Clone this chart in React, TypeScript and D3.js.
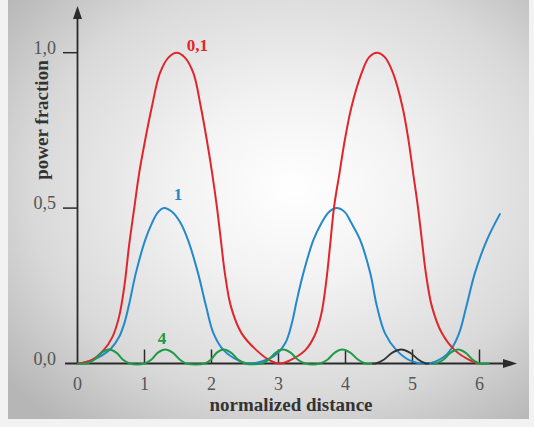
import React from 'react';
import * as d3 from 'd3';

// values
const xTicks = [0, 1, 2, 3, 4, 5, 6];
const yTicks = [0, 0.5, 1];
const yTickLabels = ['0,0', '0,5', '1,0'];

const redPoints: [number, number][] = [
  [0, 0], [0.2, 0.01], [0.39, 0.043], [0.52, 0.085], [0.62, 0.15], [0.7, 0.25],
  [0.77, 0.38], [0.85, 0.505], [0.92, 0.612], [1.01, 0.719], [1.11, 0.826],
  [1.23, 0.934], [1.36, 0.985], [1.48, 1.0], [1.6, 0.985], [1.73, 0.934],
  [1.84, 0.826], [1.93, 0.719], [2.01, 0.612], [2.08, 0.505], [2.14, 0.397],
  [2.2, 0.29], [2.29, 0.183], [2.45, 0.097], [2.67, 0.043], [2.87, 0.01],
  [3.02, 0], [3.17, 0.01], [3.4, 0.043], [3.54, 0.09], [3.64, 0.16],
  [3.71, 0.26], [3.77, 0.38], [3.83, 0.505], [3.91, 0.612], [3.99, 0.719],
  [4.09, 0.826], [4.24, 0.934], [4.35, 0.985], [4.47, 1.0], [4.59, 0.985],
  [4.71, 0.934], [4.85, 0.826], [4.94, 0.719], [5.01, 0.612], [5.08, 0.505],
  [5.14, 0.397], [5.2, 0.29], [5.29, 0.183], [5.44, 0.097], [5.63, 0.043],
  [5.86, 0.01], [5.98, 0],
];

const bluePoints: [number, number][] = [
  [0.05, 0], [0.29, 0.017], [0.5, 0.048], [0.62, 0.085], [0.7, 0.13], [0.77, 0.19],
  [0.87, 0.29], [1.01, 0.397], [1.11, 0.451], [1.2, 0.486], [1.29, 0.5],
  [1.41, 0.488], [1.53, 0.455], [1.65, 0.397], [1.8, 0.29], [1.92, 0.183],
  [2.03, 0.097], [2.18, 0.043], [2.4, 0.01], [2.57, 0], [2.92, 0.022],
  [3.1, 0.065], [3.2, 0.13], [3.27, 0.2], [3.37, 0.29], [3.52, 0.397],
  [3.64, 0.451], [3.75, 0.487], [3.87, 0.5], [3.99, 0.487], [4.09, 0.451],
  [4.22, 0.397], [4.37, 0.29], [4.47, 0.183], [4.59, 0.097], [4.76, 0.043],
  [4.96, 0.01], [5.21, 0], [5.46, 0.02], [5.6, 0.054], [5.7, 0.1], [5.8, 0.18],
  [5.93, 0.29], [6.11, 0.397], [6.31, 0.483],
];

const greenPointsA: [number, number][] = [
  [0, 0], [0.14, 0], [0.25, 0.012], [0.36, 0.035], [0.47, 0.045], [0.58, 0.035], [0.68, 0.012], [0.78, 0],
  [1.0, 0], [1.1, 0.012], [1.2, 0.035], [1.31, 0.045], [1.42, 0.035], [1.53, 0.012], [1.63, 0],
  [1.9, 0], [1.99, 0.012], [2.08, 0.035], [2.18, 0.045], [2.29, 0.035], [2.4, 0.012], [2.5, 0],
  [2.75, 0], [2.85, 0.012], [2.96, 0.035], [3.07, 0.045], [3.18, 0.035], [3.29, 0.012], [3.4, 0],
  [3.62, 0], [3.73, 0.012], [3.84, 0.035], [3.95, 0.045], [4.07, 0.035], [4.19, 0.012], [4.3, 0], [4.4, 0],
];

const greenPointsB: [number, number][] = [
  [5.3, 0], [5.35, 0], [5.46, 0.012], [5.57, 0.035], [5.68, 0.045], [5.79, 0.035], [5.9, 0.012], [6.0, 0], [6.15, 0],
];

const blackPoints: [number, number][] = [
  [4.4, 0], [4.45, 0], [4.57, 0.012], [4.7, 0.035], [4.83, 0.045], [4.96, 0.035], [5.09, 0.012], [5.2, 0], [5.25, 0],
];

const seriesLabels = [
  { text: '0,1', x: 1.63, y: 1.005, color: '#e0262c', anchor: 'start' },
  { text: '1', x: 1.5, y: 0.525, color: '#2389cc', anchor: 'middle' },
  { text: '4', x: 1.26, y: 0.063, color: '#1f9a48', anchor: 'middle' },
];

const W = 534;
const H = 427;
const serif = '"Liberation Serif", "DejaVu Serif", serif';

export default function App() {
  const x = d3.scaleLinear().domain([0, 6]).range([77.5, 479.5]);
  const y = d3.scaleLinear().domain([0, 1]).range([363.5, 52.7]);

  const line = d3.line<[number, number]>()
    .x(d => x(d[0]))
    .y(d => y(d[1]))
    .curve(d3.curveCatmullRom.alpha(0.5));

  const axisColor = '#2b2b2b';
  const x0 = x(0);
  const y0 = y(0);

  return (
    <svg width={W} height={H} style={{ position: 'absolute', left: 0, top: 0, display: 'block' }}>
      <defs>
        <radialGradient id="bg" cx="0.55" cy="0.45" r="0.72">
          <stop offset="0%" stopColor="#ffffff" />
          <stop offset="30%" stopColor="#f3f3f3" />
          <stop offset="70%" stopColor="#d9d9d9" />
          <stop offset="100%" stopColor="#b6b6b6" />
        </radialGradient>
      </defs>
      <rect x={0} y={0} width={W} height={H} fill="#f2f2f2" />
      <rect x={8} y={0} width={521} height={419} fill="url(#bg)" />

      {/* axes */}
      <line x1={x0} x2={x0} y1={y0} y2={16} stroke={axisColor} strokeWidth={1.8} />
      <path d={`M${x0},6 L${x0 - 4.5},19 L${x0 + 4.5},19 Z`} fill={axisColor} />
      <line x1={65} x2={506} y1={y0} y2={y0} stroke={axisColor} strokeWidth={1.8} />
      <path d={`M517,${y0} L503,${y0 - 4.5} L503,${y0 + 4.5} Z`} fill={axisColor} />

      {yTicks.filter(t => t > 0).map(t => (
        <line key={t} x1={63} x2={x0} y1={y(t)} y2={y(t)} stroke={axisColor} strokeWidth={1.5} />
      ))}
      {xTicks.filter(t => t > 0).map(t => (
        <line key={t} x1={x(t)} x2={x(t)} y1={y0} y2={y0 - 14} stroke={axisColor} strokeWidth={1.5} />
      ))}

      {yTicks.map((t, i) => (
        <text key={t} x={56} y={y(t) + 1} textAnchor="end" fontFamily={serif} fontSize={18} fill="#555">
          {yTickLabels[i]}
        </text>
      ))}
      {xTicks.map(t => (
        <text key={t} x={x(t)} y={390} textAnchor="middle" fontFamily={serif} fontSize={18} fill="#555">
          {t}
        </text>
      ))}

      <text x={291} y={411} textAnchor="middle" fontFamily={serif} fontSize={19} fontWeight="bold" fill="#333">
        normalized distance
      </text>
      <text
        transform="translate(48,120) rotate(-90)"
        textAnchor="middle"
        fontFamily={serif}
        fontSize={19}
        fontWeight="bold"
        fill="#333"
      >
        power fraction
      </text>

      {/* curves */}
      <path d={line(bluePoints) || ''} fill="none" stroke="#2389cc" strokeWidth={2} />
      <path d={line(redPoints) || ''} fill="none" stroke="#e0262c" strokeWidth={2} />
      <path d={line(greenPointsA) || ''} fill="none" stroke="#1f9a48" strokeWidth={2} />
      <path d={line(greenPointsB) || ''} fill="none" stroke="#1f9a48" strokeWidth={2} />
      <path d={line(blackPoints) || ''} fill="none" stroke="#333" strokeWidth={1.8} />

      {seriesLabels.map(l => (
        <text
          key={l.text}
          x={x(l.x)}
          y={y(l.y)}
          textAnchor={l.anchor}
          fontFamily={serif}
          fontSize={17}
          fontWeight="bold"
          fill={l.color}
        >
          {l.text}
        </text>
      ))}
    </svg>
  );
}
